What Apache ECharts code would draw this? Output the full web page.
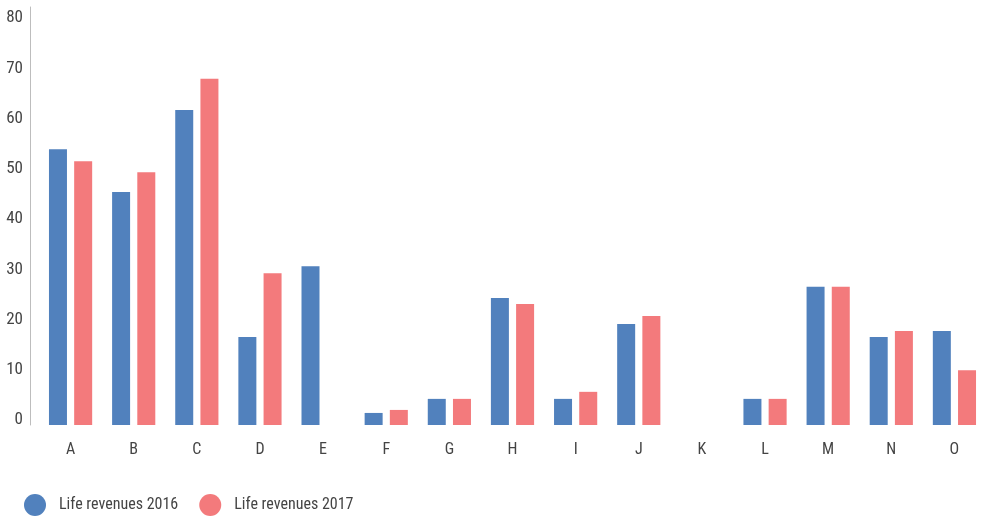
<!DOCTYPE html>
<html>
<head>
<meta charset="utf-8">
<script src="https://cdn.jsdelivr.net/npm/echarts@6/dist/echarts.min.js"></script>
<style>
  html, body { margin: 0; padding: 0; background: #fff; }
  #chart { width: 986px; height: 517px; }
</style>
</head>
<body>
<div id="chart"></div>
<script>
// Categories along the x axis
const categories = ['A', 'B', 'C', 'D', 'E', 'F', 'G', 'H', 'I', 'J', 'K', 'L', 'M', 'N', 'O'];

// Life revenues per category (null = no value reported)
const revenues2016 = [54.9, 46.4, 62.7, 17.5, 31.6, 2.4, 5.2, 25.3, 5.2, 20.1, null, 5.2, 27.5, 17.5, 18.7];
const revenues2017 = [52.5, 50.3, 68.9, 30.2, null, 3.0, 5.2, 24.1, 6.6, 21.7, null, 5.2, 27.5, 18.7, 10.9];

// Series names shown in the legend
const seriesNames = ['Life revenues 2016', 'Life revenues 2017'];

// Value-axis tick labels
const yTicks = [0, 10, 20, 30, 40, 50, 60, 70, 80];

const FONT = "'Roboto Condensed', 'DejaVu Sans Condensed', sans-serif";
const TEXT = '#444444';
const BLUE = '#5181bd';
const PINK = '#f37a7c';

const chart = echarts.init(document.getElementById('chart'), null, { renderer: 'canvas' });

chart.setOption({
  animation: false,
  textStyle: { fontFamily: FONT },
  color: [BLUE, PINK],
  grid: { left: 39, right: -1, top: 7, bottom: 92, containLabel: false },
  legend: {
    left: 19,
    top: 489,
    icon: 'circle',
    itemWidth: 22,
    itemHeight: 22,
    itemGap: 21,
    textStyle: { fontFamily: FONT, fontSize: 16, color: TEXT, padding: [0, 0, 0, 8] },
    data: seriesNames
  },
  xAxis: {
    type: 'category',
    data: categories,
    axisLine: { show: false },
    axisTick: { show: false },
    axisLabel: { fontFamily: FONT, fontSize: 16, color: TEXT, margin: 17 }
  },
  yAxis: {
    type: 'value',
    min: 0,
    max: 83.2,
    interval: 10,
    offset: 9,
    splitLine: { show: false },
    axisTick: { show: false },
    axisLine: { show: true, lineStyle: { color: '#bdbdbd', width: 1 } },
    axisLabel: {
      fontFamily: FONT,
      fontSize: 17,
      color: TEXT,
      margin: 7,
      verticalAlign: 'bottom',
      lineHeight: 10,
      showMaxLabel: false,
      formatter: function (v) { return yTicks.indexOf(v) >= 0 ? String(v) : ''; }
    }
  },
  series: [
    { name: seriesNames[0], type: 'bar', data: revenues2016, barWidth: 18, barGap: '40%' },
    { name: seriesNames[1], type: 'bar', data: revenues2017, barWidth: 18, barGap: '40%' }
  ]
});
</script>
</body>
</html>
